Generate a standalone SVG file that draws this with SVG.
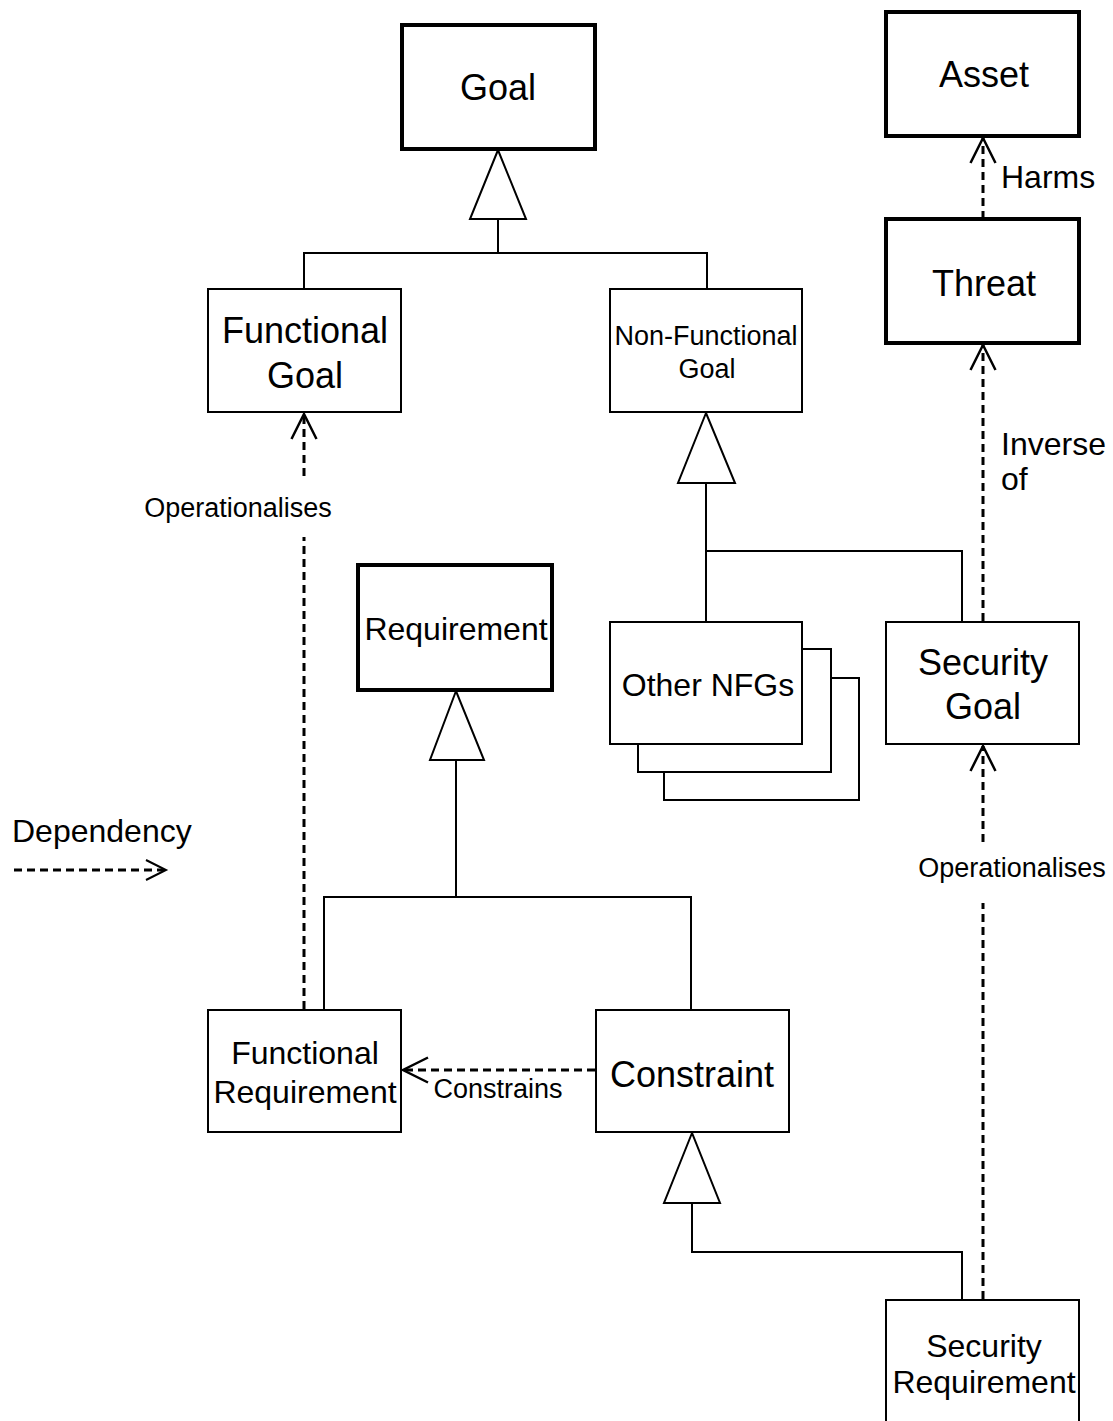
<svg xmlns="http://www.w3.org/2000/svg" width="1113" height="1421" viewBox="0 0 1113 1421">
<style>
  text { font-family: "Liberation Sans", Arial, sans-serif; fill: #000; }
  .box { fill: #fff; stroke: #000; stroke-width: 2; }
  .thick { fill: #fff; stroke: #000; stroke-width: 4; }
  .line { fill: none; stroke: #000; stroke-width: 2; }
  .tri { fill: #fff; stroke: #000; stroke-width: 2; stroke-linejoin: miter; }
  .dash { fill: none; stroke: #000; stroke-width: 3; stroke-dasharray: 8 5; }
  .head { fill: none; stroke: #000; stroke-width: 2; }
  .c { text-anchor: middle; }
</style>
<defs>
  <marker id="open" markerUnits="userSpaceOnUse" markerWidth="30" markerHeight="30" refX="0" refY="0" viewBox="-22 -12 24 24" orient="auto" overflow="visible">
    <path d="M-20,-10 L0,0 L-20,10" fill="none" stroke="#000" stroke-width="2"/>
  </marker>
</defs>

<g id="connectors">
  <!-- generalisation to Goal -->
  <polygon class="tri" points="498,150 470,219 526,219"/>
  <path class="line" d="M498,219 V253 M304,289 V253 H707 V289"/>
  <!-- generalisation to Non-Functional Goal -->
  <polygon class="tri" points="706,413 678,483 735,483"/>
  <path class="line" d="M706,483 V621 M706,551 H962 V621"/>
  <!-- generalisation to Requirement -->
  <polygon class="tri" points="456,691 430,760 484,760"/>
  <path class="line" d="M456,760 V897 M324,1009 V897 H691 V1009"/>
  <!-- generalisation to Constraint -->
  <polygon class="tri" points="692,1133 664,1203 720,1203"/>
  <path class="line" d="M692,1203 V1252 H962 V1299"/>

  <!-- Harms -->
  <path class="dash" d="M983,219 V138" marker-end="url(#open)"/>
  <!-- Inverse of -->
  <path class="dash" d="M983,621 V345" marker-end="url(#open)"/>
  <!-- Operationalises (Security Requirement -> Security Goal) -->
  <path class="dash" d="M983,1299 V903"/>
  <path class="dash" d="M983,842 V746" marker-end="url(#open)"/>
  <!-- Operationalises (Functional Requirement -> Functional Goal) -->
  <path class="dash" d="M304,1009 V537"/>
  <path class="dash" d="M304,476 V414" marker-end="url(#open)"/>
  <!-- Constrains -->
  <path class="dash" d="M595,1070 H403" marker-end="url(#open)"/>

  <text x="1001" y="188" font-size="32">Harms</text>
  <text x="1001" y="455" font-size="32">Inverse</text>
  <text x="1001" y="490" font-size="32">of</text>
  <text x="238" y="517" font-size="27" class="c">Operationalises</text>
  <text x="1012" y="877" font-size="27" class="c">Operationalises</text>
  <text x="498" y="1098" font-size="27" class="c">Constrains</text>
</g>

<g id="legend">
  <text x="12" y="842" font-size="32">Dependency</text>
  <path class="dash" d="M14,870 H164"/>
  <path class="head" d="M146,860 L166,870 L146,880"/>
</g>

<g id="goal">
  <rect class="thick" x="402" y="25" width="193" height="124"/>
  <text x="498" y="100" font-size="36" class="c">Goal</text>
</g>

<g id="asset">
  <rect class="thick" x="886" y="12" width="193" height="124"/>
  <text x="984" y="87" font-size="36" class="c">Asset</text>
</g>

<g id="threat">
  <rect class="thick" x="886" y="219" width="193" height="124"/>
  <text x="984" y="296" font-size="36" class="c">Threat</text>
</g>

<g id="functional-goal">
  <rect class="box" x="208" y="289" width="193" height="123"/>
  <text x="305" y="343" font-size="36" class="c">Functional</text>
  <text x="305" y="388" font-size="36" class="c">Goal</text>
</g>

<g id="non-functional-goal">
  <rect class="box" x="610" y="289" width="192" height="123"/>
  <text x="706" y="345" font-size="27" class="c">Non-Functional</text>
  <text x="707" y="378" font-size="27" class="c">Goal</text>
</g>

<g id="requirement">
  <rect class="thick" x="358" y="565" width="194" height="125"/>
  <text x="456" y="640" font-size="32" class="c">Requirement</text>
</g>

<g id="other-nfgs">
  <rect class="box" x="664" y="678" width="195" height="122"/>
  <rect class="box" x="638" y="649" width="193" height="123"/>
  <rect class="box" x="610" y="622" width="192" height="122"/>
  <text x="708" y="696" font-size="32" class="c">Other NFGs</text>
</g>

<g id="security-goal">
  <rect class="box" x="886" y="622" width="193" height="122"/>
  <text x="983" y="675" font-size="36" class="c">Security</text>
  <text x="983" y="719" font-size="36" class="c">Goal</text>
</g>

<g id="functional-requirement">
  <rect class="box" x="208" y="1010" width="193" height="122"/>
  <text x="305" y="1064" font-size="32" class="c">Functional</text>
  <text x="305" y="1103" font-size="32" class="c">Requirement</text>
</g>

<g id="constraint">
  <rect class="box" x="596" y="1010" width="193" height="122"/>
  <text x="692" y="1087" font-size="36" class="c">Constraint</text>
</g>

<g id="security-requirement">
  <rect class="box" x="886" y="1300" width="193" height="140"/>
  <text x="984" y="1357" font-size="32" class="c">Security</text>
  <text x="984" y="1393" font-size="32" class="c">Requirement</text>
</g>
</svg>
